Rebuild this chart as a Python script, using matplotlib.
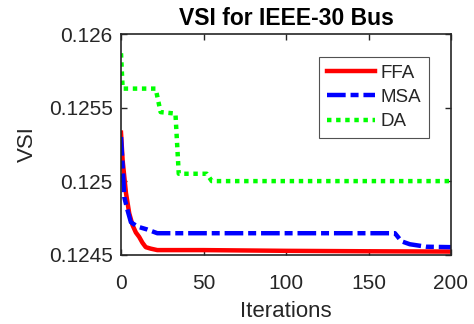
import matplotlib
matplotlib.use("Agg")
import matplotlib.pyplot as plt
from matplotlib.ticker import FixedLocator, FuncFormatter

plt.rcParams['font.family'] = ['Liberation Sans', 'DejaVu Sans']

ffa_iter = [0, 1, 3, 5, 7, 9, 11, 13, 15, 18, 22, 50, 100, 150, 200]
ffa_vsi = [0.12533, 0.12514, 0.12492, 0.12478, 0.12470, 0.12465, 0.12462, 0.12458,
           0.12455, 0.12454, 0.12453, 0.12453, 0.124525, 0.124522, 0.12452]

msa_iter = [0, 1, 2, 4, 6, 10, 16, 22, 166, 170, 175, 185, 200]
msa_vsi = [0.12530, 0.12510, 0.12489, 0.12480, 0.12472, 0.12469, 0.12467, 0.124645,
           0.124645, 0.12459, 0.12457, 0.124553, 0.12455]

da_iter = [0, 1, 21, 24, 33, 35, 52, 55, 200]
da_vsi = [0.125871, 0.12563, 0.12563, 0.12547, 0.12546, 0.12505, 0.12505, 0.125, 0.125]

x_ticks = [0, 50, 100, 150, 200]
y_ticks = [0.1245, 0.125, 0.1255, 0.126]

fig = plt.figure(figsize=(4.74, 3.24), dpi=100)
ax = fig.add_axes([121/474, 1 - 254.5/324, 330/474, 220.2/324])

ax.plot(ffa_iter, ffa_vsi, color='#ff0000', lw=3.2, label='FFA')
ax.plot(msa_iter, msa_vsi, color='#0000ff', lw=3.2, ls=(0, (4.2, 1.1, 1.8, 1.1)), label='MSA')
ax.plot(da_iter, da_vsi, color='#00ff00', lw=3.2, ls=(0, (1, 1.05)), label='DA')

ax.set_xlim(0, 200)
ax.set_ylim(0.1245, 0.126)
ax.xaxis.set_major_locator(FixedLocator(x_ticks))
ax.yaxis.set_major_locator(FixedLocator(y_ticks))
ax.yaxis.set_major_formatter(FuncFormatter(lambda v, p: f"{v:g}"))
ax.tick_params(direction='in', top=True, right=True, length=4, width=1,
               color='#262626', labelcolor='#262626', labelsize=15)
ax.tick_params(axis='y', pad=6)
ax.tick_params(axis='x', pad=14)
for s in ax.spines.values():
    s.set_color('#262626')
    s.set_linewidth(1.2)

ax.set_xlabel('Iterations', fontsize=16, color='#262626', labelpad=6)
ax.set_ylabel('VSI', fontsize=16, color='#262626', labelpad=8)
ax.set_title('VSI for IEEE-30 Bus', fontsize=16.5, fontweight='bold', color='black', pad=6.5)

leg = ax.legend(loc='upper right', bbox_to_anchor=(429/474, 1 - 57/324),
                bbox_transform=fig.transFigure, fontsize=13.5, handlelength=2.6,
                frameon=True, fancybox=False, borderpad=0.4, labelspacing=0.38,
                handletextpad=0.3, borderaxespad=0)
leg.get_frame().set_edgecolor('#262626')
leg.get_frame().set_linewidth(0.8)
for t in leg.get_texts():
    t.set_color('#262626')

fig.savefig('out.png', dpi=100)
